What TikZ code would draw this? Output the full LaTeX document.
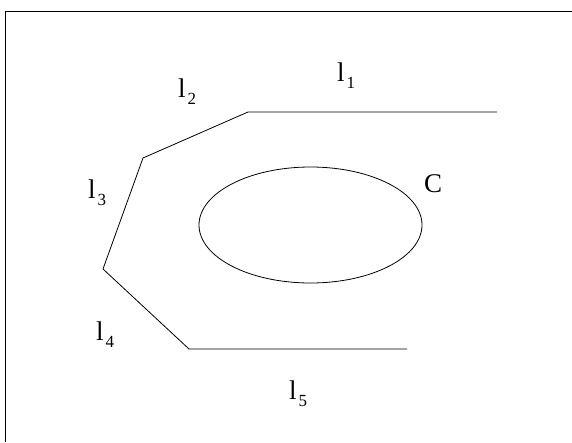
\documentclass[tikz,border=0pt]{standalone}
\usepackage{fontspec}
\setmainfont{Liberation Serif}
\usepackage{tikz}
\usetikzlibrary{positioning}

\newcommand{\seglab}[1]{l\hspace{2pt}\raisebox{-7pt}{\fontsize{17}{17}\selectfont #1}}

\begin{document}
\begin{tikzpicture}[
  x=1pt, y=-1pt,
  edge/.style={line width=0.8pt},
  frameline/.style={line width=1pt},
  lbl/.style={inner sep=0pt, font=\fontsize{27}{30}\selectfont}
]
  \useasboundingbox (0,0) rectangle (572,442);

  % frame (top and left only)
  \coordinate (ftr) at (572,11);
  \coordinate (ftl) at (5,11);
  \coordinate (fbl) at (5,442);
  \draw[frameline] (ftr) -- (ftl) -- (fbl);

  % boundary polyline
  \coordinate (p0) at (497,112);
  \coordinate (p1) at (248,112);
  \coordinate (p2) at (143,158);
  \coordinate (p3) at (103,269);
  \coordinate (p4) at (189,349);
  \coordinate (p5) at (407,349);
  \draw[edge] (p0) -- (p1) -- (p2) -- (p3) -- (p4) -- (p5);

  % curve C
  \coordinate (cc) at (310.5,225);
  \draw[edge] (cc) ellipse [x radius=111.5, y radius=58];

  % labels
  \node[lbl] (l1) at (346,76) {\seglab{1}};
  \node[lbl] (l2) at (187,92) {\seglab{2}};
  \node[lbl] (l3) at (97,193) {\seglab{3}};
  \node[lbl] (l4) at (105,335) {\seglab{4}};
  \node[lbl] (l5) at (298,394) {\seglab{5}};
  \node[lbl] (cl) at (433,184) {C};
\end{tikzpicture}
\end{document}
